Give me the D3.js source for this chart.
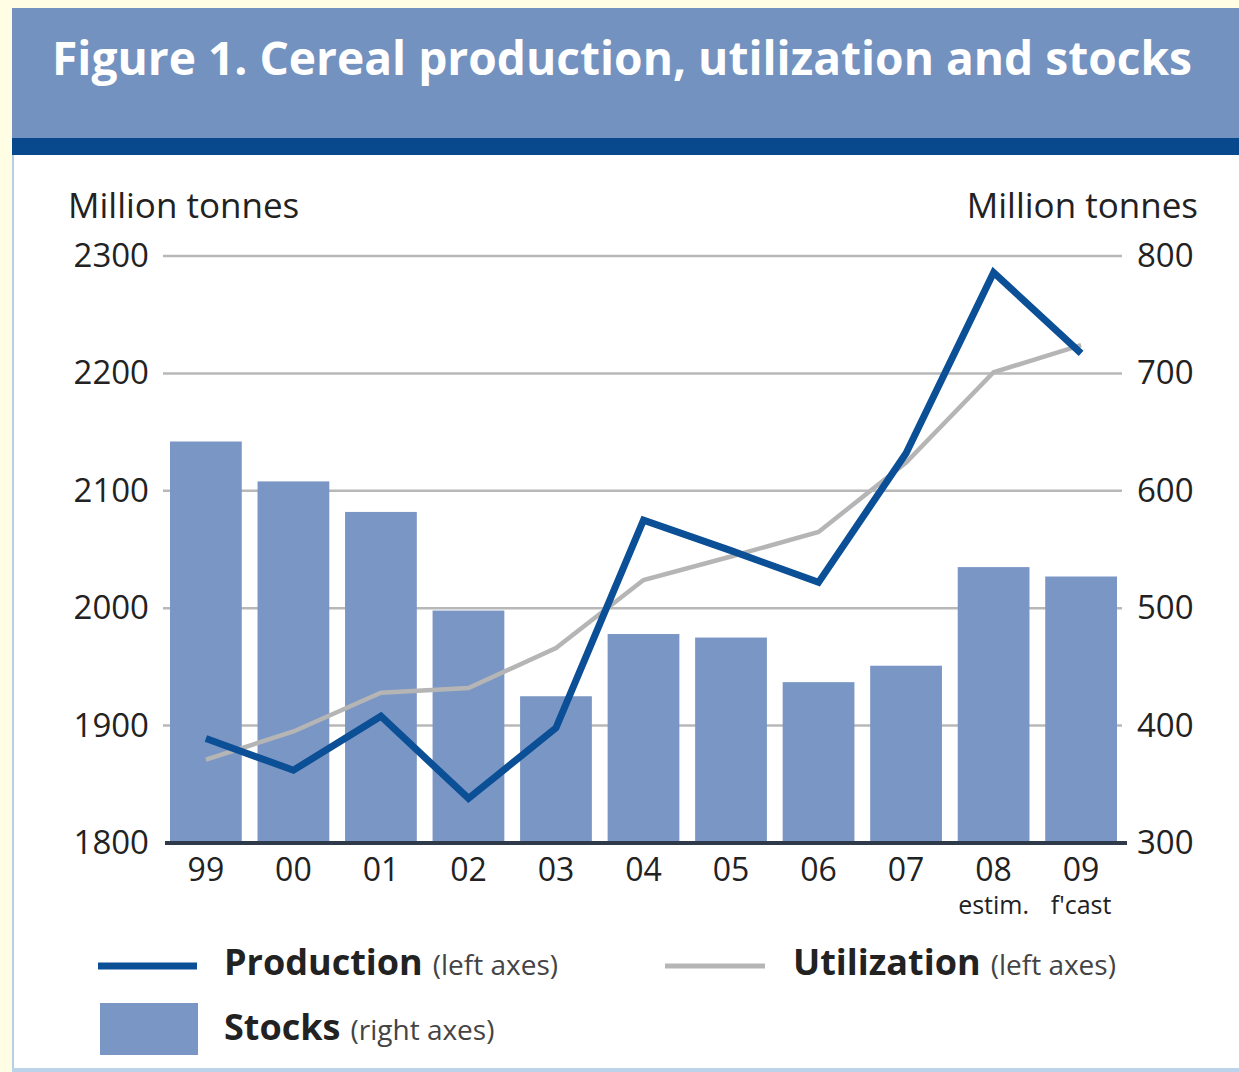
<!DOCTYPE html>
<html>
<head>
<meta charset="utf-8">
<script src="https://cdn.jsdelivr.net/npm/d3@7"></script>
<style>
  body { margin: 0; background: #fffde4; }
  text { font-family: "Open Sans", sans-serif; fill: #222; }
</style>
</head>
<body>
<svg id="chart"></svg>
<script>
const years = ["99", "00", "01", "02", "03", "04", "05", "06", "07", "08", "09"];
const yearNotes = ["", "", "", "", "", "", "", "", "", "estim.", "f'cast"];
const production = [1889, 1862, 1908, 1838, 1898, 2075, 2049, 2022, 2132, 2286, 2217];
const utilization = [1871, 1895, 1928, 1932, 1966, 2024, 2044, 2065, 2124, 2201, 2224];
const stocks = [642, 608, 582, 498, 425, 478, 475, 437, 451, 535, 527];
const leftTicks = [1800, 1900, 2000, 2100, 2200, 2300];
const rightTicks = [300, 400, 500, 600, 700, 800];

const SVG_WIDTH = 1239;
const SVG_HEIGHT = 1072;
const PLOT_LEFT = 163;
const PLOT_RIGHT = 1124;
const PLOT_TOP = 256;
const PLOT_BOTTOM = 843;
const BAR_COLOR = "#7a96c4";
const PROD_COLOR = "#0b4f96";
const UTIL_COLOR = "#b5b5b5";

const svg = d3.select("#chart").attr("width", SVG_WIDTH).attr("height", SVG_HEIGHT);

// page frame
svg.append("rect").attr("width", SVG_WIDTH).attr("height", SVG_HEIGHT).attr("fill", "#fffde4");
svg.append("rect").attr("x", 12).attr("y", 8).attr("width", SVG_WIDTH - 12).attr("height", 1062)
  .attr("fill", "#fff");
svg.append("rect").attr("x", 12).attr("y", 155).attr("width", 2).attr("height", 915).attr("fill", "#b6d0e8");
svg.append("rect").attr("x", 12).attr("y", 1068).attr("width", SVG_WIDTH - 12).attr("height", 4).attr("fill", "#bcd4ea");

// title band
svg.append("rect").attr("x", 12).attr("y", 8).attr("width", SVG_WIDTH - 12).attr("height", 131).attr("fill", "#7392c0");
svg.append("rect").attr("x", 12).attr("y", 138).attr("width", SVG_WIDTH - 12).attr("height", 17).attr("fill", "#08488c");
svg.append("text").attr("x", 52).attr("y", 75)
  .attr("textLength", 1140).attr("lengthAdjust", "spacingAndGlyphs")
  .style("font-size", "46px").style("font-weight", "700").style("fill", "#fff")
  .text("Figure 1. Cereal production, utilization and stocks");

// scales
const x = d3.scaleBand().domain(years).range([PLOT_LEFT, PLOT_RIGHT]).paddingInner(0.18).paddingOuter(0.08);
const yLeft = d3.scaleLinear().domain([1800, 2300]).range([PLOT_BOTTOM, PLOT_TOP]);
const yRight = d3.scaleLinear().domain([300, 800]).range([PLOT_BOTTOM, PLOT_TOP]);
const cx = d => x(d) + x.bandwidth() / 2;

// axis titles
svg.append("text").attr("x", 68).attr("y", 218).style("font-size", "35px").text("Million tonnes");
svg.append("text").attr("x", 1198).attr("y", 218).attr("text-anchor", "end").style("font-size", "35px").text("Million tonnes");

// gridlines
svg.append("g").selectAll("line")
  .data(leftTicks.slice(1))
  .enter().append("line")
  .attr("x1", PLOT_LEFT).attr("x2", 1122)
  .attr("y1", d => yLeft(d)).attr("y2", d => yLeft(d))
  .attr("stroke", "#b8b8b8").attr("stroke-width", 2.5);

// left axis
const leftAxis = svg.append("g").attr("transform", "translate(" + PLOT_LEFT + ",0)")
  .call(d3.axisLeft(yLeft).tickValues(leftTicks).tickSize(0).tickPadding(14).tickFormat(d3.format("d")));
leftAxis.select(".domain").remove();
leftAxis.selectAll("text").style("font-size", "33px").style("font-family", null);

// right axis
const rightAxis = svg.append("g").attr("transform", "translate(1122,0)")
  .call(d3.axisRight(yRight).tickValues(rightTicks).tickSize(0).tickPadding(15).tickFormat(d3.format("d")));
rightAxis.select(".domain").remove();
rightAxis.selectAll("text").style("font-size", "33px").style("font-family", null);

// bars (stocks, right axis)
svg.append("g").selectAll("rect")
  .data(stocks)
  .enter().append("rect")
  .attr("x", (d, i) => x(years[i]))
  .attr("y", d => yRight(d))
  .attr("width", x.bandwidth())
  .attr("height", d => yRight(300) - yRight(d))
  .attr("fill", BAR_COLOR);

// baseline
svg.append("line").attr("x1", 165).attr("x2", 1127)
  .attr("y1", PLOT_BOTTOM).attr("y2", PLOT_BOTTOM)
  .attr("stroke", "#2e3a4a").attr("stroke-width", 4);

// x labels
const xAxis = svg.append("g").attr("transform", "translate(0," + PLOT_BOTTOM + ")")
  .call(d3.axisBottom(x).tickSize(0).tickPadding(15));
xAxis.select(".domain").remove();
xAxis.selectAll("text").style("font-size", "32px").style("font-family", null);
svg.append("g").selectAll("text")
  .data(yearNotes)
  .enter().append("text")
  .attr("x", (d, i) => cx(years[i]))
  .attr("y", 914)
  .attr("text-anchor", "middle")
  .style("font-size", "25px")
  .text(d => d);

// lines
const lineLeft = d3.line().x((d, i) => cx(years[i])).y(d => yLeft(d));
svg.append("path").datum(utilization).attr("d", lineLeft)
  .attr("fill", "none").attr("stroke", UTIL_COLOR).attr("stroke-width", 4.5);
svg.append("path").datum(production).attr("d", lineLeft)
  .attr("fill", "none").attr("stroke", PROD_COLOR).attr("stroke-width", 7)
  .attr("stroke-linejoin", "miter");

// legend
const legend = svg.append("g");
legend.append("line").attr("x1", 98).attr("x2", 197).attr("y1", 966).attr("y2", 966)
  .attr("stroke", PROD_COLOR).attr("stroke-width", 7);
legend.append("line").attr("x1", 665).attr("x2", 765).attr("y1", 966).attr("y2", 966)
  .attr("stroke", UTIL_COLOR).attr("stroke-width", 5);
legend.append("rect").attr("x", 100).attr("y", 1003).attr("width", 98).attr("height", 52).attr("fill", BAR_COLOR);

function legendLabel(xPos, yPos, main, note) {
  const t = legend.append("text").attr("x", xPos).attr("y", yPos);
  t.append("tspan").style("font-size", "36px").style("font-weight", "700").text(main);
  t.append("tspan").attr("dx", 10).style("font-size", "28px").style("fill", "#444").text(note);
}
legendLabel(224, 975, "Production", "(left axes)");
legendLabel(793, 975, "Utilization", "(left axes)");
legendLabel(224, 1040, "Stocks", "(right axes)");
</script>
</body>
</html>
